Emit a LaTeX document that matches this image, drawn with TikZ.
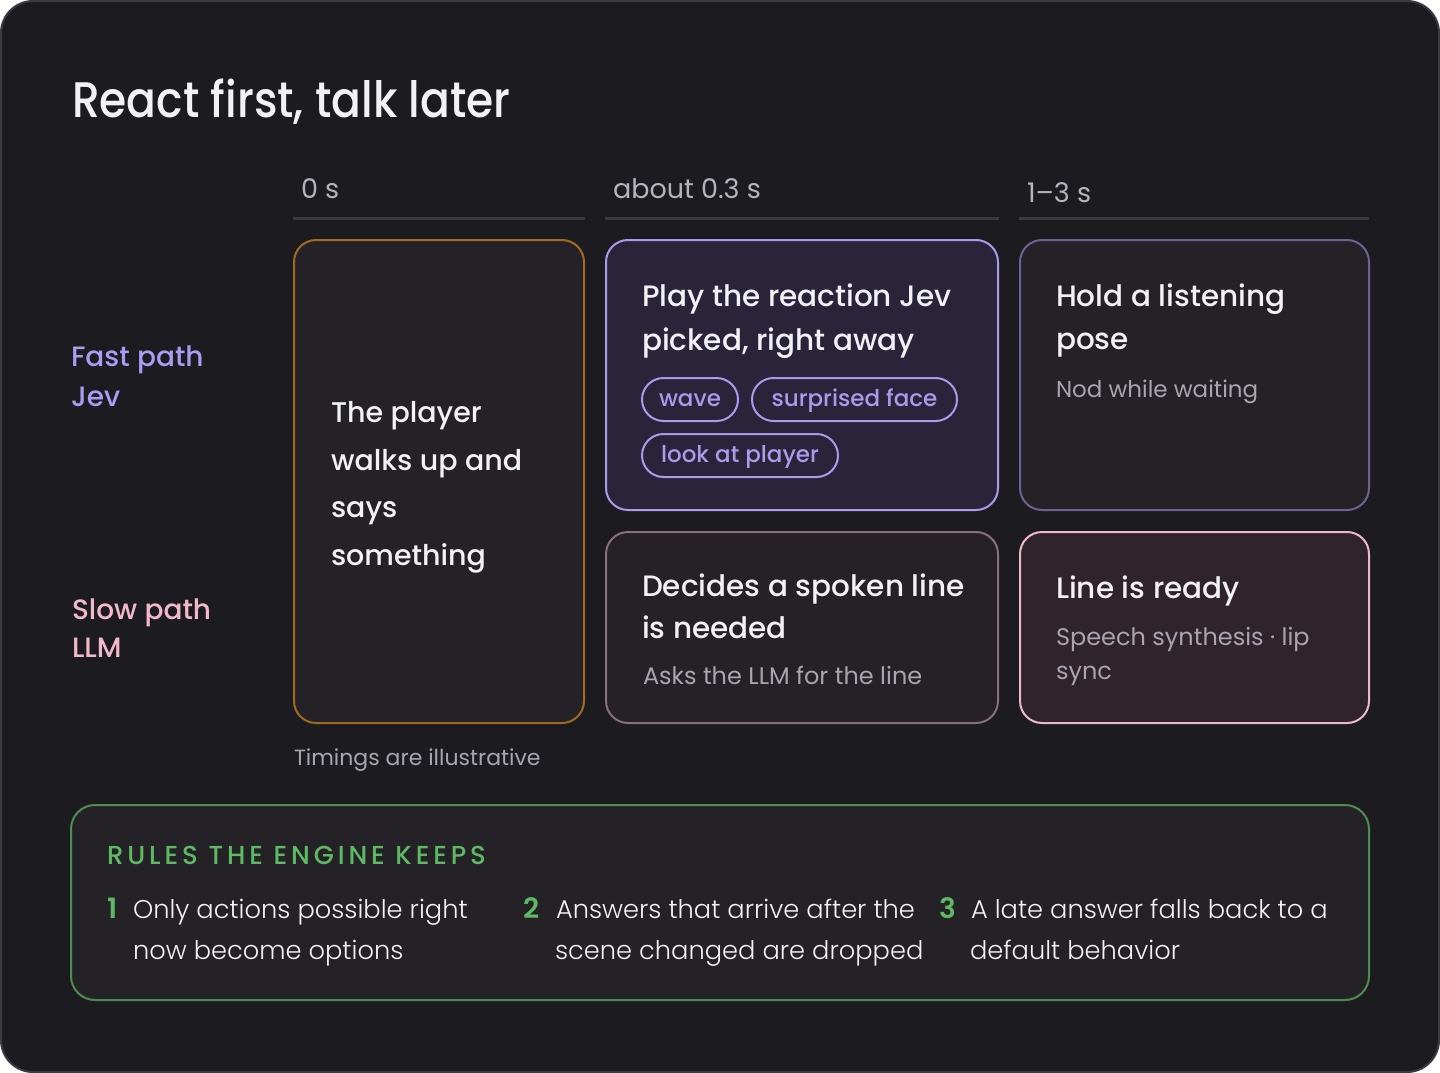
\documentclass[tikz,border=0pt]{standalone}
\usepackage{fontspec}
\setmainfont{Poppins}
\newfontfamily\medfont{Poppins}[UprightFont={* Medium}]
\newfontfamily\ttlfont{Poppins}[UprightFont={* Medium},FakeStretch=0.88]
\newfontfamily\lightfont{Poppins}[UprightFont={* Light}]
\newfontfamily\capsfont{Poppins}[UprightFont={* Medium},LetterSpace=15]
\newfontfamily\numfont{Poppins}[UprightFont={* SemiBold}]
\definecolor{bg}{HTML}{1C1B20}
\definecolor{outerline}{HTML}{3C3B41}
\definecolor{cardfill}{HTML}{242227}
\definecolor{fillB}{HTML}{29243A}
\definecolor{fillD}{HTML}{252126}
\definecolor{fillE}{HTML}{2E2429}
\definecolor{lineA}{HTML}{A06A20}
\definecolor{lineB}{HTML}{A99BEA}
\definecolor{lineC}{HTML}{6B6394}
\definecolor{lineD}{HTML}{85707C}
\definecolor{lineE}{HTML}{EFB8C8}
\definecolor{greenline}{HTML}{4F8C52}
\definecolor{greentext}{HTML}{5DBA62}
\definecolor{lavtext}{HTML}{A99CF2}
\definecolor{pinktext}{HTML}{F4B9C9}
\definecolor{whitetext}{HTML}{F2F1F6}
\definecolor{hdrgray}{HTML}{B5B3BC}
\definecolor{subgray}{HTML}{A8A5AE}
\definecolor{hline}{HTML}{3A3940}
\tikzset{
  txt/.style={anchor=base west, inner sep=0pt, outer sep=0pt},
  card/.style={line width=2pt, rounded corners=22pt, inner sep=0pt},
  hdr/.style={txt, text=hdrgray, font=\fontsize{27}{30}\selectfont},
  head/.style={txt, text=whitetext, font=\medfont\fontsize{29.5}{36}\selectfont},
  bighead/.style={txt, text=whitetext, font=\medfont\fontsize{28.5}{36}\selectfont},
  sub/.style={txt, text=subgray, font=\fontsize{24}{28}\selectfont},
  rowlab/.style={txt, font=\medfont\fontsize{28}{32}\selectfont},
  pill/.style={draw=lineB, line width=2pt, rounded corners=21.5pt, minimum height=43pt, inner sep=0pt, text height=17pt, text depth=3pt, text=lineB, font=\medfont\fontsize{23}{26}\selectfont, anchor=west},
  rule/.style={txt, text=whitetext, font=\lightfont\fontsize{25.7}{30}\selectfont},
  num/.style={txt, text=greentext, font=\numfont\fontsize{28}{30}\selectfont},
  hrule/.style={draw=hline, line width=3pt}
}
\begin{document}
\begin{tikzpicture}[x=1pt,y=-1pt]
\useasboundingbox (0,0) rectangle (1440,1073);
\fill[white] (0,0) rectangle (1440,1073);
\draw[fill=bg, draw=outerline, line width=2pt, rounded corners=32pt] (1,1) rectangle (1439,1072);

\node[txt, text=whitetext, font=\ttlfont\fontsize{50}{56}\selectfont] (title) at (72,117) {React first, talk later};

\node[hdr] (h1) at (301,198) {0 s};
\node[hdr] (h2) at (613,198) {about 0.3 s};
\node[hdr] (h3) at (1027,202) {1–3 s};
\draw[hrule] (293,218) -- (585,218);
\draw[hrule] (605,218) -- (999,218);
\draw[hrule] (1019,218) -- (1369,218);

\node[rowlab, text=lavtext] (fast) at (71,366) {Fast path};
\node[rowlab, text=lavtext] (jev) at (71,406) {Jev};
\node[rowlab, text=pinktext] (slow) at (72,619) {Slow path};
\node[rowlab, text=pinktext] (llm) at (72,657) {LLM};

\node[card, draw=lineA, fill=cardfill, minimum width=290pt, minimum height=483pt] (cardA) at (439,481.5) {};
\node[card, draw=lineB, fill=fillB, minimum width=392pt, minimum height=270pt] (cardB) at (802,375) {};
\node[card, draw=lineC, fill=cardfill, minimum width=349pt, minimum height=270pt] (cardC) at (1194.5,375) {};
\node[card, draw=lineD, fill=fillD, minimum width=392pt, minimum height=191pt] (cardD) at (802,627.5) {};
\node[card, draw=lineE, fill=fillE, minimum width=349pt, minimum height=191pt] (cardE) at (1194.5,627.5) {};

\node[bighead] (a1) at (331,422) {The player};
\node[bighead] (a2) at (331,470) {walks up and};
\node[bighead] (a3) at (331,517) {says};
\node[bighead] (a4) at (331,565) {something};

\node[head] (b1) at (642,306) {Play the reaction Jev};
\node[head] (b2) at (642,350) {picked, right away};
\node[pill, minimum width=96pt] (wave) at (641,399.5) {wave};
\node[pill, minimum width=205pt] (face) at (751,399.5) {surprised face};
\node[pill, minimum width=196pt] (look) at (641,455.5) {look at player};

\node[head] (c1) at (1056,306) {Hold a listening};
\node[head] (c2) at (1056,349) {pose};
\node[sub, font=\fontsize{23}{28}\selectfont] (c3) at (1056,397) {Nod while waiting};

\node[head] (d1) at (642,596) {Decides a spoken line};
\node[head] (d2) at (642,638) {is needed};
\node[sub] (d3) at (643,684) {Asks the LLM for the line};

\node[head] (e1) at (1056,598) {Line is ready};
\node[sub] (e2) at (1056,645) {Speech synthesis · lip};
\node[sub] (e3) at (1056,679) {sync};

\node[sub, font=\fontsize{22}{26}\selectfont] (note) at (294,765) {Timings are illustrative};

\node[card, draw=greenline, fill=cardfill, rounded corners=24pt, minimum width=1298pt, minimum height=195pt] (rules) at (720,902.5) {};
\node[txt, text=greentext, font=\capsfont\fontsize{26}{28}\selectfont] (rtitle) at (107,864) {RULES THE ENGINE KEEPS};
\node[num] (n1) at (107,918) {1};
\node[rule] (r1a) at (133,918) {Only actions possible right};
\node[rule] (r1b) at (133,959) {now become options};
\node[num] (n2) at (523,918) {2};
\node[rule] (r2a) at (556,918) {Answers that arrive after the};
\node[rule] (r2b) at (555,959) {scene changed are dropped};
\node[num] (n3) at (939,918) {3};
\node[rule] (r3a) at (971,918) {A late answer falls back to a};
\node[rule] (r3b) at (970,959) {default behavior};
\end{tikzpicture}
\end{document}
